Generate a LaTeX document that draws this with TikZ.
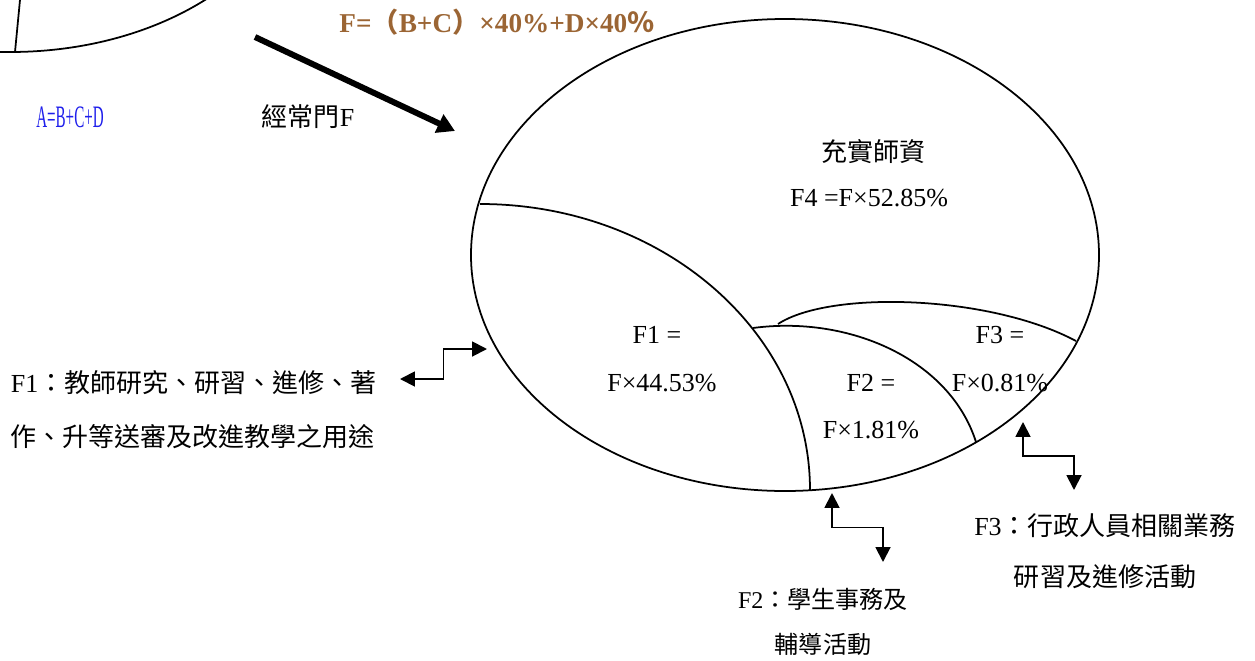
\documentclass[tikz,border=0pt]{standalone}
\usepackage{fontspec}
\setmainfont{Liberation Serif}
\newfontfamily\cjk{Noto Sans CJK TC}
\usepackage{xcolor}
\usetikzlibrary{arrows.meta,calc,positioning}
\definecolor{fbrown}{RGB}{155,101,52}
\definecolor{ablue}{RGB}{30,30,235}
\tikzset{
	txt/.style={inner sep=0pt,font=\fontsize{14.8}{18}\selectfont},
	note/.style={inner sep=0pt,align=left,font=\fontsize{14.8}{30.7}\selectfont},
	bigarr/.style={line width=3.4pt,-{Triangle[length=10pt,width=11pt]}},
	dblarr/.style={line width=1.1pt,{Triangle[length=8.5pt,width=8.5pt]}-{Triangle[length=8.5pt,width=8.5pt]}}
}

\begin{document}
\begin{tikzpicture}[x=0.02cm,y=-0.02cm,line width=1pt]
	\useasboundingbox (0,0) rectangle (1255,660);
	% what is left of the first circle
	\begin{scope}
		\clip (0,0) rectangle (1255,660);
		\draw (10,-150) ellipse [x radius=291, y radius=202];
	\end{scope}
	\draw (20,0) -- (15,52);
	\node[txt,text=ablue]	(total)	at (70,117)	{\scalebox{0.58}[1.2]{A=B+C+D}};
	\node[txt]	(jcm)	at (308,117)	{{\cjk 經常門}F};
	\node[txt,text=fbrown,font=\fontsize{15.5}{18}\selectfont\bfseries]	(formula)	at (497,22)
		{F={\cjk （}B+C{\cjk ）}×40\%+D×40{\cjk ％}};
	\coordinate (bs) at (255,37);
	\coordinate (be) at (455,131);
	\draw[bigarr] (bs) -- (be);
	% the F circle
	\draw (785,255) ellipse [x radius=314, y radius=236];
	\draw (480,204) arc [start angle=-90, end angle=0, x radius=330, y radius=286];
	\draw (753,328) .. controls (850,315) and (950,360) .. (976,442);
	\draw (778,324) .. controls (830,290) and (990,295) .. (1076,341);
	\node[txt]	(f4name)	at (873,152)	{\cjk 充實師資};
	\node[txt]	(f4val)	at (869,198)	{F4 =F×52.85\%};
	\node[txt]	(f1eq)	at (657,335)	{F1 =};
	\node[txt]	(f1val)	at (662,383)	{F×44.53\%};
	\node[txt]	(f2eq)	at (871,383)	{F2 =};
	\node[txt]	(f2val)	at (871,430)	{F×1.81\%};
	\node[txt]	(f3eq)	at (1000,335)	{F3 =};
	\node[txt]	(f3val)	at (1000,383)	{F×0.81\%};
	% notes and their arrows
	\node[note,anchor=west]	(f1note)	at (10,410)
		{F1{\cjk ：教師研究、研習、進修、著}\\{\cjk 作、升等送審及改進教學之用途}};
	\node[note,align=center,font=\fontsize{13.7}{25.6}\selectfont]	(f2note)	at (823,622)
		{F2{\cjk ：學生事務及}\\{\cjk 輔導活動}};
	\node[note,align=center,font=\fontsize{14.8}{29}\selectfont]	(f3note)	at (1105,551)
		{F3{\cjk ：行政人員相關業務}\\{\cjk 研習及進修活動}};
	\coordinate (f1a) at (400,379);
	\coordinate (f1b) at (487,349);
	\draw[dblarr] (f1a) -| ($(f1a)!.5!(f1b)$) |- (f1b);
	\coordinate (f2a) at (832,493);
	\coordinate (f2b) at (883,562);
	\draw[dblarr] (f2a) |- ($(f2a)!.5!(f2b)$) -| (f2b);
	\coordinate (f3a) at (1023,422);
	\coordinate (f3b) at (1074,490);
	\draw[dblarr] (f3a) |- ($(f3a)!.5!(f3b)$) -| (f3b);
\end{tikzpicture}
\end{document}
